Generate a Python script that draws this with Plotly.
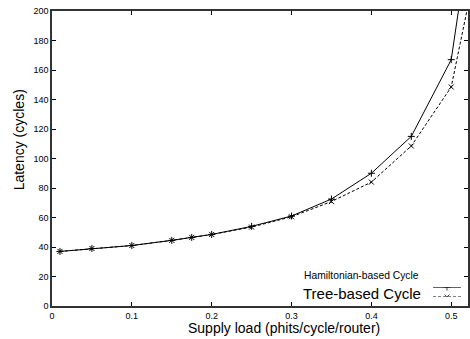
import plotly.graph_objects as go

load = [0.01, 0.05, 0.1, 0.15, 0.175, 0.2, 0.25, 0.3, 0.35, 0.4, 0.45, 0.5, 0.55]
ham = [37, 39, 41, 44.5, 46.5, 48.5, 54, 61, 72.5, 90, 115, 167, 350]
tree = [37, 39, 41, 44.5, 46.5, 48.5, 53.5, 60.5, 70.8, 84, 108.5, 148.5, 280]
xticks = [0, 0.1, 0.2, 0.3, 0.4, 0.5]
yticks = list(range(0, 201, 20))

fig = go.Figure()
fig.add_trace(go.Scatter(x=load, y=ham, mode="lines+markers", name="Hamiltonian-based Cycle",
                         line=dict(color="black", width=1),
                         marker=dict(symbol="cross-thin", size=5, line=dict(color="black", width=1)),
                         showlegend=False))
fig.add_trace(go.Scatter(x=load, y=tree, mode="lines+markers", name="Tree-based Cycle",
                         line=dict(color="black", width=1, dash="3px,2px"),
                         marker=dict(symbol="x-thin", size=5, line=dict(color="black", width=1)),
                         showlegend=False))

# legend samples on an overlay axis
fig.add_trace(go.Scatter(x=[0.0, 0.5, 1.0], y=[1, 1, 1], xaxis="x2", yaxis="y2", mode="lines+markers",
                         line=dict(color="black", width=1),
                         marker=dict(symbol=["circle-open", "cross-thin", "circle-open"], size=[0, 5, 0],
                                     line=dict(color="black", width=1)),
                         showlegend=False, hoverinfo="skip"))
fig.add_trace(go.Scatter(x=[0.0, 0.5, 1.0], y=[0, 0, 0], xaxis="x2", yaxis="y2", mode="lines+markers",
                         line=dict(color="black", width=1, dash="3px,2px"),
                         marker=dict(symbol=["circle-open", "x-thin", "circle-open"], size=[0, 5, 0],
                                     line=dict(color="black", width=1)),
                         showlegend=False, hoverinfo="skip"))

fig.add_annotation(text="Hamiltonian-based Cycle", xref="paper", yref="paper", x=0.886, y=0.102,
                   xanchor="right", yanchor="middle", showarrow=False,
                   font=dict(family="Liberation Sans, Arial", size=10.3, color="black"))
fig.add_annotation(text="Tree-based Cycle", xref="paper", yref="paper", x=0.892, y=0.044,
                   xanchor="right", yanchor="middle", showarrow=False,
                   font=dict(family="Liberation Sans, Arial", size=15, color="black"))
fig.add_annotation(text="Supply load (phits/cycle/router)", xref="paper", yref="paper", x=0.557, y=-0.0746,
                   xanchor="center", yanchor="middle", showarrow=False,
                   font=dict(family="Liberation Sans, Arial", size=14, color="black"))
fig.add_annotation(text="Latency (cycles)", xref="paper", yref="paper", x=-0.080, y=0.564,
                   xanchor="center", yanchor="middle", showarrow=False, textangle=-90,
                   font=dict(family="Liberation Sans, Arial", size=14, color="black"))

fig.update_layout(
    width=470, height=339,
    margin=dict(l=52, r=0, t=11, b=33),
    paper_bgcolor="white", plot_bgcolor="white",
    font=dict(family="Liberation Sans, Arial", color="black"),
    xaxis=dict(range=[0, 0.521], tickvals=xticks, ticktext=["0", "0.1", "0.2", "0.3", "0.4", "0.5"],
               ticks="inside", ticklen=4, tickcolor="black", showline=True, linecolor="#333", linewidth=1.5,
               mirror="ticks", showgrid=False, zeroline=False, tickfont=dict(size=9)),
    yaxis=dict(range=[0, 200], tickvals=yticks, ticks="inside", ticklen=4, tickcolor="black",
               showline=True, linecolor="#333", linewidth=1.5, mirror="ticks", showgrid=False,
               zeroline=False, tickfont=dict(size=9)),
    xaxis2=dict(domain=[0.916, 0.983], range=[0, 1], visible=False, anchor="y2"),
    yaxis2=dict(domain=[0.0305, 0.064], range=[0, 1], visible=False, anchor="x2"),
)

fig.write_html("out.html")
